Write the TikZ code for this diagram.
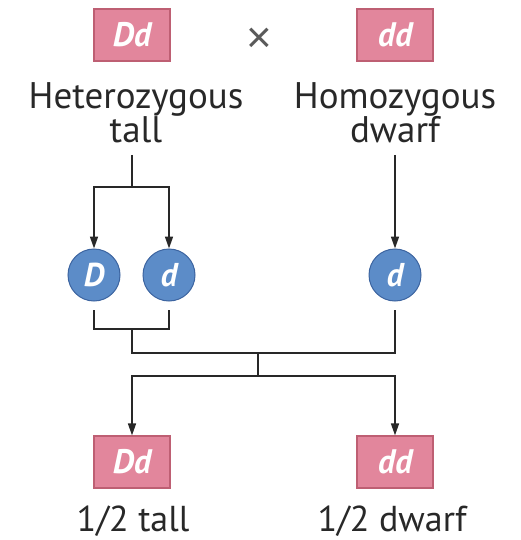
\documentclass[tikz,border=0pt]{standalone}
\usepackage{fontspec}
\setmainfont{PT Sans}
\newfontfamily\timesfont{Liberation Sans}
\usetikzlibrary{arrows.meta}
\definecolor{boxpink}{RGB}{226,134,156}
\definecolor{boxedge}{RGB}{190,95,115}
\definecolor{ballblue}{RGB}{92,140,200}
\definecolor{balledge}{RGB}{60,100,160}
\definecolor{linegray}{RGB}{40,40,40}
\definecolor{crossgray}{RGB}{90,90,90}
\tikzset{
  genobox/.style={fill=boxpink, draw=boxedge, line width=1.2pt, minimum width=76pt, minimum height=52pt, inner sep=0pt, text=white, font=\fontsize{34}{34}\selectfont\bfseries\itshape},
  gamete/.style={circle, fill=ballblue, draw=balledge, line width=1pt, minimum size=52pt, inner sep=0pt, text=white, font=\fontsize{33}{33}\selectfont\bfseries\itshape},
  lbl/.style={align=center, inner sep=0pt, text=linegray, font=\fontsize{37}{35}\selectfont},
  blbl/.style={inner sep=0pt, text=linegray, font=\fontsize{36}{36}\selectfont},
  conn/.style={draw=linegray, line width=1.6pt},
  arr/.style={conn, -{Triangle[length=12pt,width=8pt]}}
}
\begin{document}
\begin{tikzpicture}[x=1pt,y=-1pt]
\useasboundingbox (0,0) rectangle (521,540);
\node[genobox] (p1) at (132,35) {Dd};
\node[genobox] (p2) at (395,35) {dd};
\node[text=crossgray, inner sep=0pt, font=\timesfont\fontsize{44}{44}\selectfont] (x) at (259,40) {×};
\node[lbl, anchor=base] (l1) at (136,143) {Heterozygous\\tall};
\node[lbl, anchor=base] (l2) at (395,143) {Homozygous\\dwarf};
\node[gamete] (g1) at (94,275) {D};
\node[gamete] (g2) at (169,275) {d};
\node[gamete] (g3) at (395,275) {d};
\node[genobox] (c1) at (132,462) {Dd};
\node[genobox] (c2) at (395,462) {dd};
\node[blbl, anchor=base] (t1) at (133,531) {1/2 tall};
\node[blbl, anchor=base] (t2) at (392,531) {1/2 dwarf};
\coordinate (s1) at (132,155);
\coordinate (j1) at (132,187);
\draw[conn] (s1) -- (j1);
\draw[arr] (j1) -| (g1.north);
\draw[arr] (j1) -| (g2.north);
\coordinate (s2) at (395,155);
\draw[arr] (s2) -- (g3.north);
\coordinate (b1) at (94,310);
\coordinate (b2) at (169,310);
\coordinate (m1) at (132,329);
\draw[conn] (b1) |- (m1) -| (b2);
\coordinate (m2) at (132,353);
\coordinate (b3) at (395,310);
\draw[conn] (m1) -- (m2) -- (395,353) -- (b3);
\coordinate (m3) at (258,353);
\coordinate (m4) at (258,376);
\draw[conn] (m3) -- (m4);
\draw[arr] (m4) -| (c1.north);
\draw[arr] (m4) -| (c2.north);
\end{tikzpicture}
\end{document}
